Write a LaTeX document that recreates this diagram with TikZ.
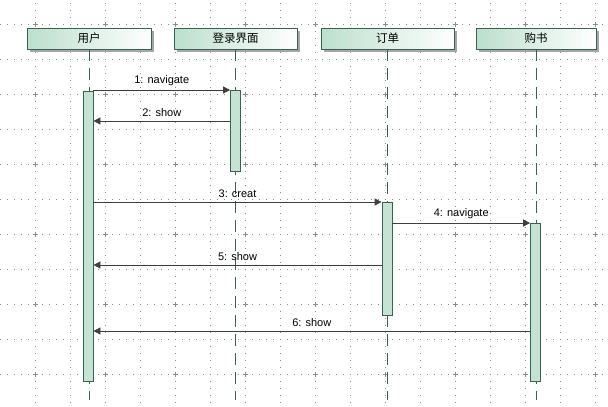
\documentclass[tikz,border=0pt]{standalone}
\usepackage{fontspec}
\setmainfont{Liberation Sans}
\newfontfamily\cjk{Noto Sans CJK SC}
\usetikzlibrary{arrows.meta,shadows}
\definecolor{lifegreen}{RGB}{58,98,82}
\definecolor{barfill}{RGB}{196,227,211}
\definecolor{headfill}{RGB}{188,223,205}
\definecolor{msgline}{RGB}{64,64,64}
\definecolor{gridgray}{RGB}{140,140,140}

\begin{document}
\begin{tikzpicture}[x=1pt,y=-1pt,
    obj/.style={draw=lifegreen,line width=0.8pt,left color=headfill,right color=white,
      minimum height=21pt,inner sep=0pt,font=\cjk\fontsize{11.5}{12}\selectfont,
      drop shadow={shadow xshift=2.5pt,shadow yshift=-2.5pt,fill=gray!70,opacity=1}},
    act/.style={draw=lifegreen,line width=0.8pt,fill=barfill,minimum width=10pt,inner sep=0pt},
    life/.style={lifegreen,line width=0.8pt,dash pattern=on 12pt off 7pt},
    msg/.style={msgline,line width=0.8pt,-{Triangle[length=7pt,width=7pt]}},
    lbl/.style={above=0.5pt,black,font=\fontsize{11}{12}\selectfont},
    griddot/.style={gridgray,line width=0.7pt,dash pattern=on 0.8pt off 6.2pt}]
    \useasboundingbox (0,0) rectangle (608,407);
    \fill[white] (0,0) rectangle (608,407);
    \foreach \x in {35,70,...,595} \draw[griddot] (\x,3) -- (\x,407);
    \foreach \y in {24,59,...,374} \draw[griddot] (0,\y) -- (608,\y);
    \foreach \x in {35,105,...,595}
      \foreach \y in {24,94,...,374}
        \draw[gridgray,line width=0.7pt] (\x-2.5,\y) -- (\x+2.5,\y) (\x,\y-2.5) -- (\x,\y+2.5);

    \node[obj,minimum width=124pt] (user) at (89,38.5) {用户};
    \node[obj,minimum width=123pt] (login) at (235.5,38.5) {登录界面};
    \node[obj,minimum width=133pt] (order) at (387.5,38.5) {订单};
    \node[obj,minimum width=120pt] (buy) at (536,38.5) {购书};

    \coordinate (bot) at (0,400);
    \draw[life] (user.south) -- (user.south |- bot);
    \draw[life] (login.south) -- (login.south |- bot);
    \draw[life] (order.south) -- (order.south |- bot);
    \draw[life] (buy.south) -- (buy.south |- bot);

    \node[act,minimum height=290pt] (aUser) at (88,236) {};
    \node[act,minimum height=81pt] (aLogin) at (235.5,130.5) {};
    \node[act,minimum height=113pt] (aOrder) at (387,258.5) {};
    \node[act,minimum height=158pt] (aBuy) at (535.5,302) {};

    \coordinate (m1) at (0,90);
    \coordinate (m2) at (0,121);
    \coordinate (m3) at (0,202);
    \coordinate (m4) at (0,223);
    \coordinate (m5) at (0,265);
    \coordinate (m6) at (0,331);

    \draw[msg] (aUser.east |- m1) -- node[lbl] {1: navigate} (aLogin.west |- m1);
    \draw[msg] (aLogin.west |- m2) -- node[lbl] {2: show} (aUser.east |- m2);
    \draw[msg] (aUser.east |- m3) -- node[lbl] {3: creat} (aOrder.west |- m3);
    \draw[msg] (aOrder.east |- m4) -- node[lbl] {4: navigate} (aBuy.west |- m4);
    \draw[msg] (aOrder.west |- m5) -- node[lbl] {5: show} (aUser.east |- m5);
    \draw[msg] (aBuy.west |- m6) -- node[lbl] {6: show} (aUser.east |- m6);
\end{tikzpicture}
\end{document}
